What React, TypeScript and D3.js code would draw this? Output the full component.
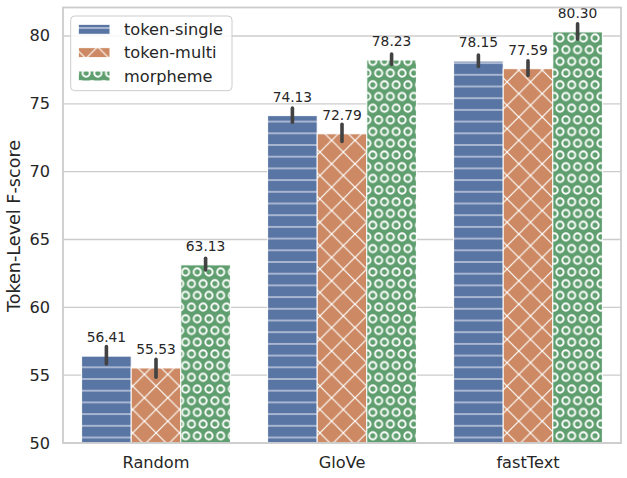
import React from "react";
import * as d3 from "d3";

const categories = ["Random", "GloVe", "fastText"];
const series = ["token-single", "token-multi", "morpheme"];
const values: number[][] = [
  [56.41, 74.13, 78.15],
  [55.53, 72.79, 77.59],
  [63.13, 78.23, 80.30],
];
const errLow: number[][] = [
  [55.83, 73.65, 77.75],
  [54.85, 72.22, 77.09],
  [62.75, 77.91, 79.77],
];
const errHigh: number[][] = [
  [57.10, 74.68, 78.6],
  [56.17, 73.5, 78.17],
  [63.61, 78.67, 80.9],
];
const yTicks = [50, 55, 60, 65, 70, 75, 80];
const colors = ["#5975a4", "#cc8963", "#5f9e6e"];

const W = 627;
const H = 478;
const left = 63;
const right = 621;
const top = 7.5;
const bottom = 443;
const FONT = "DejaVu Sans, sans-serif";
const TXT = "#262626";
const S = 11.7; // hatch spacing

export default function App() {
  const x = d3.scaleBand<string>().domain(categories).range([left, right]).paddingInner(0.2).paddingOuter(0.1);
  const xi = d3.scaleBand<string>().domain(series).range([0, x.bandwidth()]);
  const y = d3.scaleLinear().domain([50, 82.1]).range([bottom, top]);

  const patterns = (
    <defs>
      <pattern id="hp0" patternUnits="userSpaceOnUse" width={S} height={S} x={0} y={4.6 - S / 2}>
        <rect width={S} height={S} fill={colors[0]} />
        <line x1={-1} x2={S + 1} y1={S / 2} y2={S / 2} stroke="#b0bcd5" strokeWidth={1.8} />
      </pattern>
      <pattern id="hp1" patternUnits="userSpaceOnUse" width={2 * S} height={2 * S} x={4} y={0}>
        <rect width={2 * S} height={2 * S} fill={colors[1]} />
        {[-2 * S, 0, 2 * S].map((dx) => (
          <g key={dx}>
            <line x1={dx} y1={0} x2={dx + 2 * S} y2={2 * S} stroke="#ffffff" strokeWidth={1.2} />
            <line x1={dx} y1={2 * S} x2={dx + 2 * S} y2={0} stroke="#ffffff" strokeWidth={1.2} />
          </g>
        ))}
      </pattern>
      <pattern id="hp2" patternUnits="userSpaceOnUse" width={S} height={2 * S} x={10.1} y={14.6}>
        <rect width={S} height={2 * S} fill={colors[2]} />
        {[
          [0, 0],
          [S, 0],
          [0, 2 * S],
          [S, 2 * S],
          [S / 2, S],
        ].map(([cx, cy], i) => (
          <circle key={i} cx={cx} cy={cy} r={3.6} fill="none" stroke="#ffffff" strokeWidth={1.9} />
        ))}
      </pattern>
    </defs>
  );

  return (
    <svg width={W} height={H} style={{ position: "absolute", left: 0, top: 0, background: "#fff" }}>
      {patterns}
      <rect x={0} y={0} width={W} height={H} fill="#ffffff" />
      {/* grid */}
      {yTicks.map((t) => (
        <line key={t} x1={left} x2={right} y1={y(t)} y2={y(t)} stroke="#cccccc" strokeWidth={1.4} />
      ))}
      {/* bars */}
      {series.map((s, si) =>
        categories.map((c, ci) => {
          const x0 = (x(c) as number) + (xi(s) as number);
          const v = values[si][ci];
          return (
            <rect
              key={s + c}
              x={x0}
              y={y(v)}
              width={xi.bandwidth()}
              height={y(50) - y(v)}
              fill={`url(#hp${si})`}
              stroke="#ffffff"
              strokeWidth={1}
            />
          );
        })
      )}
      {/* error bars */}
      {series.map((s, si) =>
        categories.map((c, ci) => {
          const cx = (x(c) as number) + (xi(s) as number) + xi.bandwidth() / 2;
          return (
            <line
              key={"e" + s + c}
              x1={cx}
              x2={cx}
              y1={y(errLow[si][ci])}
              y2={y(errHigh[si][ci])}
              stroke="#424242"
              strokeWidth={3.6}
              strokeLinecap="round"
            />
          );
        })
      )}
      {/* value labels */}
      {series.map((s, si) =>
        categories.map((c, ci) => {
          const cx = (x(c) as number) + (xi(s) as number) + xi.bandwidth() / 2;
          const v = values[si][ci];
          return (
            <text
              key={"t" + s + c}
              x={cx}
              y={y(v) - 13.8}
              textAnchor="middle"
              fontFamily={FONT}
              fontSize={13.8}
              fill={TXT}
            >
              {v.toFixed(2)}
            </text>
          );
        })
      )}
      {/* spines */}
      <rect x={left} y={top} width={right - left} height={bottom - top} fill="none" stroke="#cccccc" strokeWidth={1.8} />
      {/* y ticks */}
      {yTicks.map((t) => (
        <text
          key={"yt" + t}
          x={50}
          y={y(t)}
          textAnchor="end"
          dominantBaseline="central"
          fontFamily={FONT}
          fontSize={16.2}
          fill={TXT}
        >
          {t}
        </text>
      ))}
      {/* x ticks */}
      {categories.map((c) => (
        <text
          key={"xt" + c}
          x={(x(c) as number) + x.bandwidth() / 2}
          y={468}
          textAnchor="middle"
          fontFamily={FONT}
          fontSize={16.2}
          fill={TXT}
        >
          {c}
        </text>
      ))}
      {/* y label */}
      <text
        transform={`translate(20,226) rotate(-90)`}
        textAnchor="middle"
        fontFamily={FONT}
        fontSize={17.6}
        fill={TXT}
      >
        Token-Level F-score
      </text>
      {/* legend */}
      <g>
        <rect x={70.7} y={16} width={161.3} height={74.7} rx={4} fill="#ffffff" fillOpacity={0.85} stroke="#cccccc" strokeWidth={1} />
        {series.map((s, si) => {
          const cy = 29.3 + si * 23.35;
          return (
            <g key={"lg" + s}>
              <rect x={78.3} y={cy - 5} width={31.7} height={10} fill={`url(#hp${si})`} stroke="#ffffff" strokeWidth={1} />
              <text x={124} y={cy} dominantBaseline="central" fontFamily={FONT} fontSize={16.2} fill={TXT}>
                {s}
              </text>
            </g>
          );
        })}
      </g>
    </svg>
  );
}
